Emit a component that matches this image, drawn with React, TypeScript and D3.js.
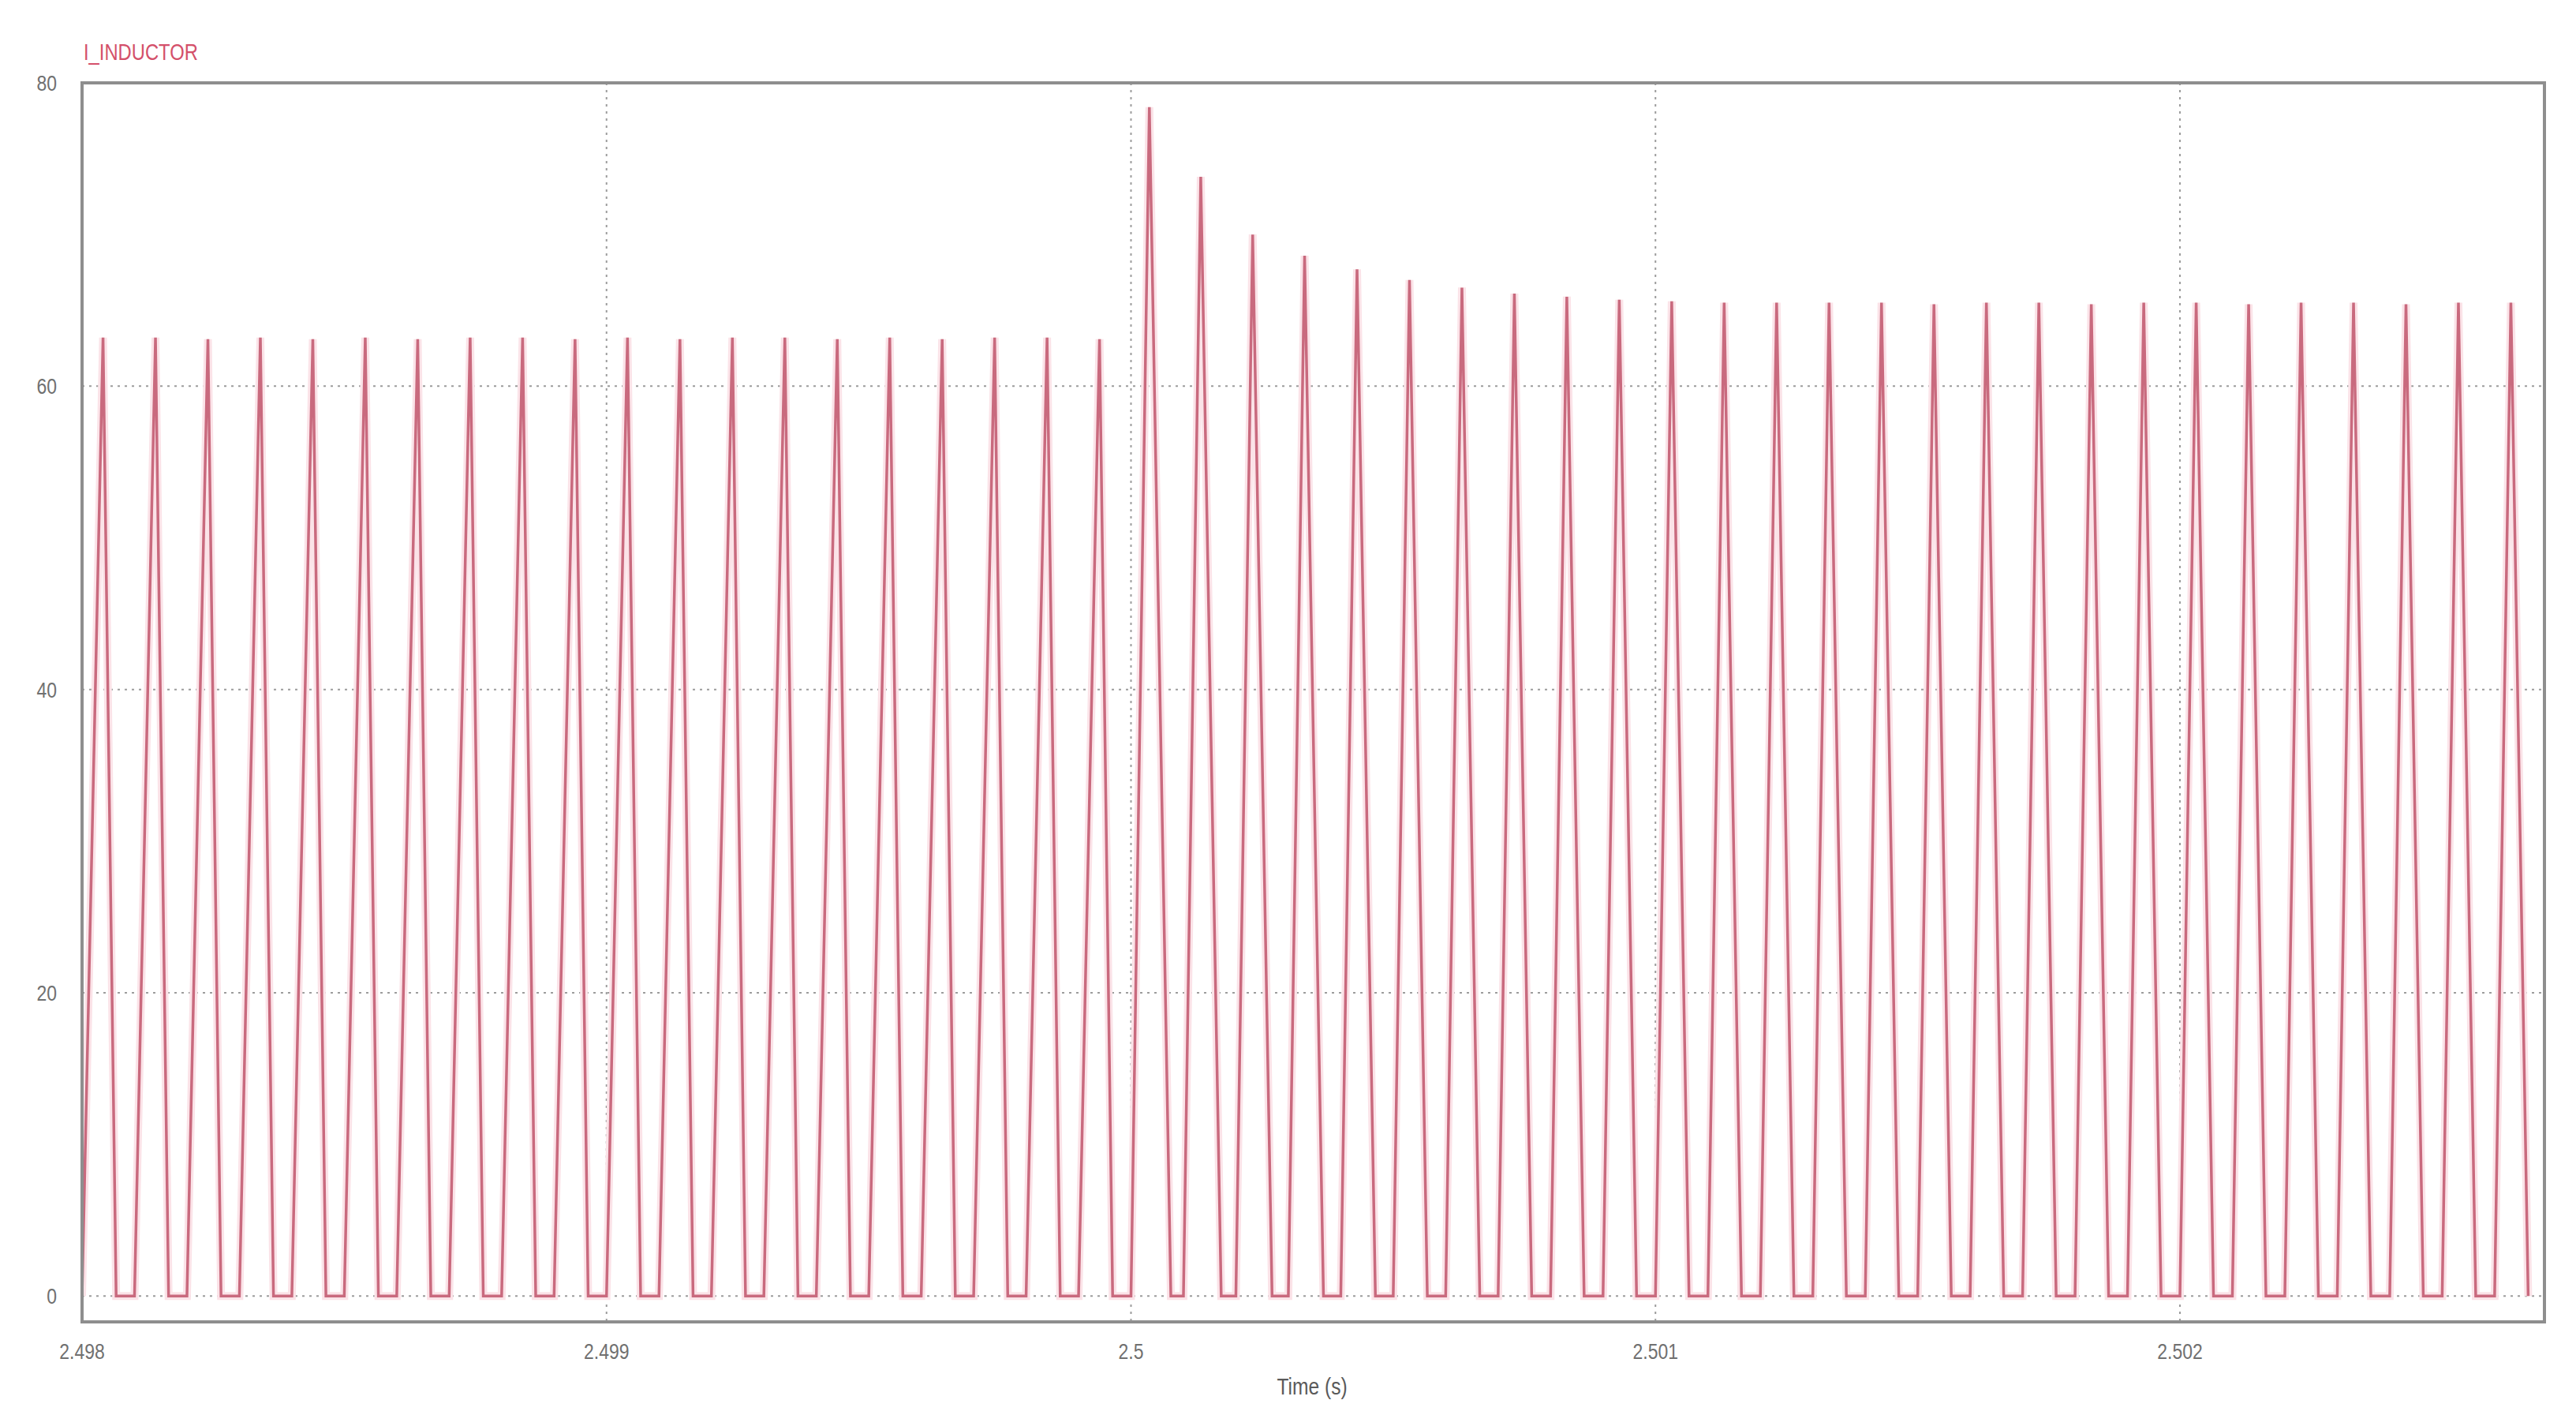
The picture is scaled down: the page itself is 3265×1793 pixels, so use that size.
import React from "react";
import * as d3 from "d3";

// ---- data ----
const timeStart = 2.498; // s, first switching edge
const switchingPeriod = 1e-4; // s (10 kHz)
// peak inductor current of each switching pulse (A)
const peakCurrent = [
  63.2, 63.2, 63.1, 63.2, 63.1, 63.2, 63.1, 63.2, 63.2, 63.1,
  63.2, 63.1, 63.2, 63.2, 63.1, 63.2, 63.1, 63.2, 63.2, 63.1,
  78.4, 73.8, 70.0, 68.6, 67.7, 67.0, 66.5, 66.1, 65.9, 65.7,
  65.6, 65.5, 65.5, 65.5, 65.5, 65.4, 65.5, 65.5, 65.4, 65.5,
  65.5, 65.4, 65.5, 65.5, 65.4, 65.5, 65.5,
];
// rising-edge duration of each pulse (µs)
const riseMicros = [
  40, 40, 40, 40, 40, 40, 40, 40, 40, 40,
  40, 40, 40, 40, 40, 40, 40, 40, 40, 40,
  35, 33, 32, 31, 31, 31, 31, 31, 31, 31,
  31, 31, 31, 31, 31, 31, 31, 31, 31, 31,
  31, 31, 31, 31, 31, 31, 31,
];
// falling-edge duration of each pulse (µs)
const fallMicros = [
  25, 25, 25, 25, 25, 25, 25, 25, 25, 25,
  25, 25, 25, 25, 25, 25, 25, 25, 25, 25,
  41, 39, 37, 36, 35, 34, 34, 33, 33, 33,
  33, 33, 33, 33, 33, 33, 33, 33, 33, 33,
  33, 33, 33, 33, 33, 33, 33,
];
const xTicks = [2.498, 2.499, 2.5, 2.501, 2.502];
const xTickLabels = ["2.498", "2.499", "2.5", "2.501", "2.502"];
const yTicks = [0, 20, 40, 60, 80];
const seriesName = "I_INDUCTOR";
const xAxisTitle = "Time (s)";

export default function App() {
  const W = 3265;
  const H = 1793;
  const left = 104, right = 3225, top = 105, bottom = 1675;

  const x = d3.scaleLinear().domain([2.498, 2.502695]).range([left, right]);
  const y = d3.scaleLinear().domain([-1.7, 80]).range([bottom, top]);

  const pts: [number, number][] = [];
  peakCurrent.forEach((pk, k) => {
    const t0 = timeStart + k * switchingPeriod;
    const tp = t0 + riseMicros[k] * 1e-6;
    const tf = tp + fallMicros[k] * 1e-6;
    pts.push([t0, 0], [tp, pk], [tf, 0]);
  });
  const line = d3
    .line<[number, number]>()
    .x((d) => x(d[0]))
    .y((d) => y(d[1]));
  const path = line(pts) || "";

  const font = "'Liberation Sans', Arial, sans-serif";
  const sx = 0.82; // condensed look of the original labels

  return (
    <svg
      width={W}
      height={H}
      style={{ position: "absolute", left: 0, top: 0, display: "block", background: "#fff" }}
    >
      <defs>
        <clipPath id="plotclip">
          <rect x={left} y={top} width={right - left} height={bottom - top} />
        </clipPath>
      </defs>
      <rect x={0} y={0} width={W} height={H} fill="#ffffff" />
      {/* grid */}
      {xTicks.slice(1).map((t) => (
        <line
          key={"gx" + t}
          x1={x(t)}
          x2={x(t)}
          y1={top}
          y2={bottom}
          stroke="#9c9c9c"
          strokeWidth={2}
          strokeDasharray="3 6"
        />
      ))}
      {yTicks.slice(0, 4).map((v) => (
        <line
          key={"gy" + v}
          x1={left}
          x2={right}
          y1={y(v)}
          y2={y(v)}
          stroke="#9c9c9c"
          strokeWidth={2}
          strokeDasharray="3 6"
        />
      ))}
      {/* waveform */}
      <g clipPath="url(#plotclip)">
        <path d={path} fill="none" stroke="#fbe3e8" strokeWidth={10} strokeLinejoin="miter" />
        <path d={path} fill="none" stroke="#c96a7e" strokeWidth={3.5} strokeLinejoin="miter" />
      </g>
      {/* frame */}
      <rect
        x={left}
        y={top}
        width={right - left}
        height={bottom - top}
        fill="none"
        stroke="#8e8e8e"
        strokeWidth={4}
      />
      {/* y tick labels */}
      {yTicks.map((v) => (
        <text
          key={"ty" + v}
          transform={`translate(72,${y(v)}) scale(${sx},1)`}
          textAnchor="end"
          dominantBaseline="central"
          fontFamily={font}
          fontSize={28}
          fill="#707070"
        >
          {v}
        </text>
      ))}
      {/* x tick labels */}
      {xTicks.map((t, i) => (
        <text
          key={"tx" + t}
          transform={`translate(${x(t)},1712) scale(${sx},1)`}
          textAnchor="middle"
          dominantBaseline="central"
          fontFamily={font}
          fontSize={28}
          fill="#707070"
        >
          {xTickLabels[i]}
        </text>
      ))}
      <text
        transform={`translate(1663,1757) scale(${sx},1)`}
        textAnchor="middle"
        dominantBaseline="central"
        fontFamily={font}
        fontSize={30}
        fill="#5a5a5a"
      >
        {xAxisTitle}
      </text>
      <text
        transform={`translate(106,66) scale(${sx},1)`}
        dominantBaseline="central"
        fontFamily={font}
        fontSize={29}
        fill="#d4506a"
      >
        {seriesName}
      </text>
    </svg>
  );
}
